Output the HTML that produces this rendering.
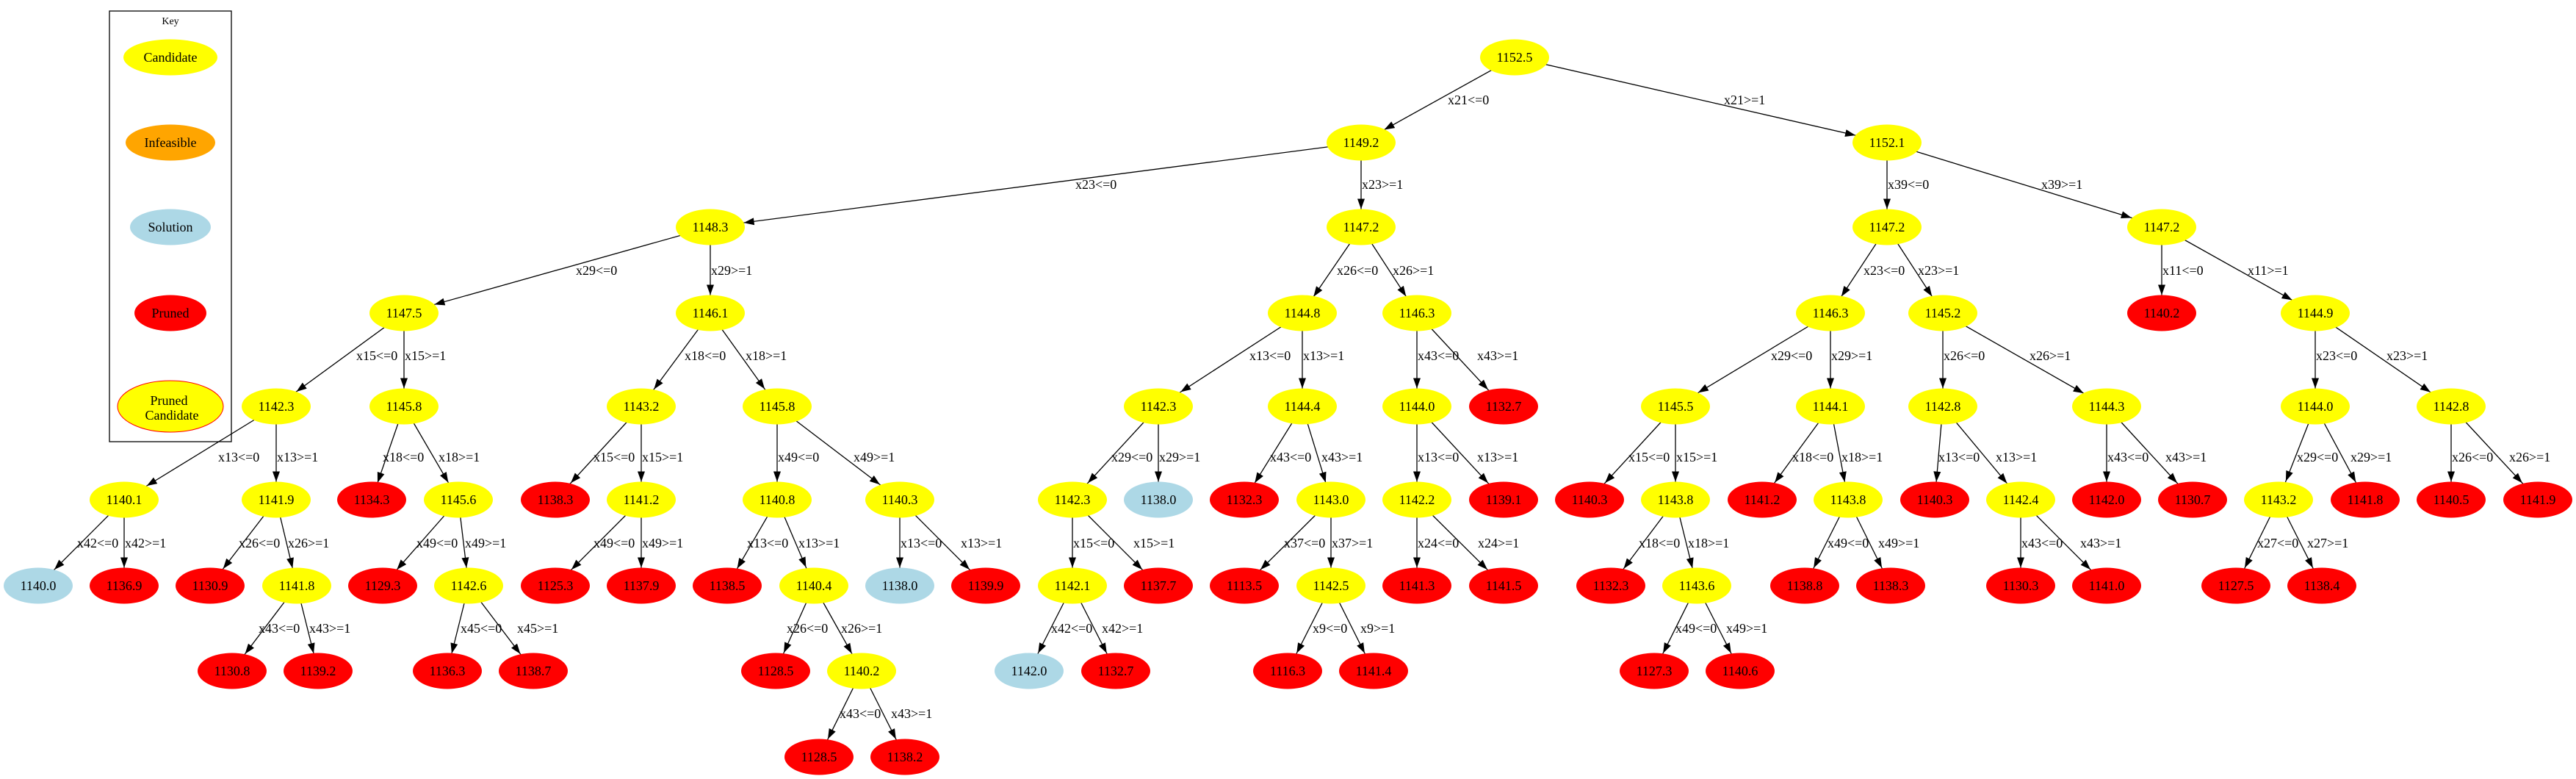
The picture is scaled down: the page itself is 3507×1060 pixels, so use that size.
<!DOCTYPE html>
<html><head><meta charset="utf-8"><style>
html,body{margin:0;padding:0;background:#fff;}
svg{display:block;font-family:"Liberation Serif",serif;}
.n{font-size:18px;text-anchor:middle;}
.l{font-size:18px;}
line{stroke:#000;stroke-width:1.3;}
.y{fill:#ffff00}.r{fill:#ff0000}.b{fill:#add8e6}.o{fill:#ffa500}
</style></head><body>
<svg width="3507" height="1060" viewBox="0 0 3507 1060" xmlns="http://www.w3.org/2000/svg">
<defs>
<marker id="m24" markerUnits="userSpaceOnUse" markerWidth="60" markerHeight="12" refX="38.5" refY="5" orient="auto" overflow="visible"><path d="M0,0 L14,5 L0,10 z" fill="#000"/></marker>
<marker id="m27" markerUnits="userSpaceOnUse" markerWidth="60" markerHeight="12" refX="41" refY="5" orient="auto" overflow="visible"><path d="M0,0 L14,5 L0,10 z" fill="#000"/></marker>
<marker id="m29" markerUnits="userSpaceOnUse" markerWidth="60" markerHeight="12" refX="43" refY="5" orient="auto" overflow="visible"><path d="M0,0 L14,5 L0,10 z" fill="#000"/></marker>
<marker id="m31" markerUnits="userSpaceOnUse" markerWidth="60" markerHeight="12" refX="45" refY="5" orient="auto" overflow="visible"><path d="M0,0 L14,5 L0,10 z" fill="#000"/></marker>
<marker id="m34" markerUnits="userSpaceOnUse" markerWidth="60" markerHeight="12" refX="48" refY="5" orient="auto" overflow="visible"><path d="M0,0 L14,5 L0,10 z" fill="#000"/></marker>
<marker id="m36" markerUnits="userSpaceOnUse" markerWidth="70" markerHeight="12" refX="50" refY="5" orient="auto" overflow="visible"><path d="M0,0 L14,5 L0,10 z" fill="#000"/></marker>
<marker id="m43" markerUnits="userSpaceOnUse" markerWidth="70" markerHeight="12" refX="57" refY="5" orient="auto" overflow="visible"><path d="M0,0 L14,5 L0,10 z" fill="#000"/></marker>
<marker id="m44" markerUnits="userSpaceOnUse" markerWidth="70" markerHeight="12" refX="58" refY="5" orient="auto" overflow="visible"><path d="M0,0 L14,5 L0,10 z" fill="#000"/></marker>
<marker id="m46" markerUnits="userSpaceOnUse" markerWidth="70" markerHeight="12" refX="60" refY="5" orient="auto" overflow="visible"><path d="M0,0 L14,5 L0,10 z" fill="#000"/></marker>
</defs>

<!-- Legend -->
<rect x="149" y="15" width="166" height="586" fill="none" stroke="#000" stroke-width="1.3"/>
<text x="232" y="33" style="font-size:14px;text-anchor:middle">Key</text>
<ellipse class="y" cx="232" cy="78" rx="64" ry="24.5"/><text class="n" x="232" y="84">Candidate</text>
<ellipse class="o" cx="232" cy="194" rx="61" ry="24.5"/><text class="n" x="232" y="200">Infeasible</text>
<ellipse class="b" cx="232" cy="309" rx="55" ry="24.5"/><text class="n" x="232" y="315">Solution</text>
<ellipse class="r" cx="232" cy="426" rx="49" ry="24.5"/><text class="n" x="232" y="432">Pruned</text>
<ellipse class="y" cx="232" cy="553" rx="72" ry="35" stroke="#ff0000" stroke-width="1"/>
<text class="n" x="230" y="551">Pruned</text><text class="n" x="234" y="571">Candidate</text>

<!-- Edges -->
<g>
<line x1="2062" y1="78" x2="1853" y2="194" marker-end="url(#m36)"/>
<line x1="2062" y1="78" x2="2569" y2="194" marker-end="url(#m44)"/>
<line x1="1853" y1="194" x2="967" y2="309" marker-end="url(#m46)"/>
<line x1="1853" y1="194" x2="1853" y2="309" marker-end="url(#m24)"/>
<line x1="967" y1="309" x2="550" y2="426" marker-end="url(#m43)"/>
<line x1="967" y1="309" x2="967" y2="426" marker-end="url(#m24)"/>
<line x1="550" y1="426" x2="376" y2="553" marker-end="url(#m34)"/>
<line x1="550" y1="426" x2="550" y2="553" marker-end="url(#m24)"/>
<line x1="376" y1="553" x2="169" y2="680" marker-end="url(#m36)"/>
<line x1="376" y1="553" x2="376" y2="680" marker-end="url(#m24)"/>
<line x1="169" y1="680" x2="52" y2="797" marker-end="url(#m31)"/>
<line x1="169" y1="680" x2="169" y2="797" marker-end="url(#m24)"/>
<line x1="376" y1="680" x2="286" y2="797" marker-end="url(#m29)"/>
<line x1="376" y1="680" x2="404" y2="797" marker-end="url(#m24)"/>
<line x1="404" y1="797" x2="316" y2="913" marker-end="url(#m29)"/>
<line x1="404" y1="797" x2="433" y2="913" marker-end="url(#m24)"/>
<line x1="550" y1="553" x2="506" y2="680" marker-end="url(#m24)"/>
<line x1="550" y1="553" x2="624" y2="680" marker-end="url(#m27)"/>
<line x1="624" y1="680" x2="521" y2="797" marker-end="url(#m29)"/>
<line x1="624" y1="680" x2="638" y2="797" marker-end="url(#m24)"/>
<line x1="638" y1="797" x2="609" y2="913" marker-end="url(#m24)"/>
<line x1="638" y1="797" x2="726" y2="913" marker-end="url(#m29)"/>
<line x1="967" y1="426" x2="873" y2="553" marker-end="url(#m29)"/>
<line x1="967" y1="426" x2="1058" y2="553" marker-end="url(#m29)"/>
<line x1="873" y1="553" x2="756" y2="680" marker-end="url(#m31)"/>
<line x1="873" y1="553" x2="873" y2="680" marker-end="url(#m24)"/>
<line x1="873" y1="680" x2="756" y2="797" marker-end="url(#m31)"/>
<line x1="873" y1="680" x2="873" y2="797" marker-end="url(#m24)"/>
<line x1="1058" y1="553" x2="1058" y2="680" marker-end="url(#m24)"/>
<line x1="1058" y1="553" x2="1225" y2="680" marker-end="url(#m34)"/>
<line x1="1058" y1="680" x2="990" y2="797" marker-end="url(#m27)"/>
<line x1="1058" y1="680" x2="1108" y2="797" marker-end="url(#m27)"/>
<line x1="1108" y1="797" x2="1056" y2="913" marker-end="url(#m27)"/>
<line x1="1108" y1="797" x2="1173" y2="913" marker-end="url(#m27)"/>
<line x1="1173" y1="913" x2="1115" y2="1030" marker-end="url(#m27)"/>
<line x1="1173" y1="913" x2="1232" y2="1030" marker-end="url(#m27)"/>
<line x1="1225" y1="680" x2="1225" y2="797" marker-end="url(#m24)"/>
<line x1="1225" y1="680" x2="1342" y2="797" marker-end="url(#m31)"/>
<line x1="1853" y1="309" x2="1773" y2="426" marker-end="url(#m27)"/>
<line x1="1853" y1="309" x2="1929" y2="426" marker-end="url(#m27)"/>
<line x1="1773" y1="426" x2="1577" y2="553" marker-end="url(#m36)"/>
<line x1="1773" y1="426" x2="1773" y2="553" marker-end="url(#m24)"/>
<line x1="1577" y1="553" x2="1460" y2="680" marker-end="url(#m31)"/>
<line x1="1577" y1="553" x2="1577" y2="680" marker-end="url(#m24)"/>
<line x1="1460" y1="680" x2="1460" y2="797" marker-end="url(#m24)"/>
<line x1="1460" y1="680" x2="1577" y2="797" marker-end="url(#m31)"/>
<line x1="1460" y1="797" x2="1401" y2="913" marker-end="url(#m27)"/>
<line x1="1460" y1="797" x2="1519" y2="913" marker-end="url(#m27)"/>
<line x1="1773" y1="553" x2="1694" y2="680" marker-end="url(#m27)"/>
<line x1="1773" y1="553" x2="1812" y2="680" marker-end="url(#m24)"/>
<line x1="1812" y1="680" x2="1694" y2="797" marker-end="url(#m31)"/>
<line x1="1812" y1="680" x2="1812" y2="797" marker-end="url(#m24)"/>
<line x1="1812" y1="797" x2="1753" y2="913" marker-end="url(#m27)"/>
<line x1="1812" y1="797" x2="1870" y2="913" marker-end="url(#m27)"/>
<line x1="1929" y1="426" x2="1929" y2="553" marker-end="url(#m24)"/>
<line x1="1929" y1="426" x2="2047" y2="553" marker-end="url(#m31)"/>
<line x1="1929" y1="553" x2="1929" y2="680" marker-end="url(#m24)"/>
<line x1="1929" y1="553" x2="2047" y2="680" marker-end="url(#m31)"/>
<line x1="1929" y1="680" x2="1929" y2="797" marker-end="url(#m24)"/>
<line x1="1929" y1="680" x2="2047" y2="797" marker-end="url(#m31)"/>
<line x1="2569" y1="194" x2="2569" y2="309" marker-end="url(#m24)"/>
<line x1="2569" y1="194" x2="2943" y2="309" marker-end="url(#m43)"/>
<line x1="2569" y1="309" x2="2492" y2="426" marker-end="url(#m27)"/>
<line x1="2569" y1="309" x2="2645" y2="426" marker-end="url(#m27)"/>
<line x1="2492" y1="426" x2="2281" y2="553" marker-end="url(#m36)"/>
<line x1="2492" y1="426" x2="2492" y2="553" marker-end="url(#m24)"/>
<line x1="2281" y1="553" x2="2164" y2="680" marker-end="url(#m31)"/>
<line x1="2281" y1="553" x2="2281" y2="680" marker-end="url(#m24)"/>
<line x1="2281" y1="680" x2="2193" y2="797" marker-end="url(#m29)"/>
<line x1="2281" y1="680" x2="2310" y2="797" marker-end="url(#m24)"/>
<line x1="2310" y1="797" x2="2252" y2="913" marker-end="url(#m27)"/>
<line x1="2310" y1="797" x2="2369" y2="913" marker-end="url(#m27)"/>
<line x1="2492" y1="553" x2="2399" y2="680" marker-end="url(#m29)"/>
<line x1="2492" y1="553" x2="2516" y2="680" marker-end="url(#m24)"/>
<line x1="2516" y1="680" x2="2457" y2="797" marker-end="url(#m27)"/>
<line x1="2516" y1="680" x2="2574" y2="797" marker-end="url(#m27)"/>
<line x1="2645" y1="426" x2="2645" y2="553" marker-end="url(#m24)"/>
<line x1="2645" y1="426" x2="2868" y2="553" marker-end="url(#m36)"/>
<line x1="2645" y1="553" x2="2634" y2="680" marker-end="url(#m24)"/>
<line x1="2645" y1="553" x2="2751" y2="680" marker-end="url(#m29)"/>
<line x1="2751" y1="680" x2="2751" y2="797" marker-end="url(#m24)"/>
<line x1="2751" y1="680" x2="2868" y2="797" marker-end="url(#m31)"/>
<line x1="2868" y1="553" x2="2868" y2="680" marker-end="url(#m24)"/>
<line x1="2868" y1="553" x2="2985" y2="680" marker-end="url(#m31)"/>
<line x1="2943" y1="309" x2="2943" y2="426" marker-end="url(#m24)"/>
<line x1="2943" y1="309" x2="3152" y2="426" marker-end="url(#m36)"/>
<line x1="3152" y1="426" x2="3152" y2="553" marker-end="url(#m24)"/>
<line x1="3152" y1="426" x2="3337" y2="553" marker-end="url(#m34)"/>
<line x1="3152" y1="553" x2="3102" y2="680" marker-end="url(#m27)"/>
<line x1="3152" y1="553" x2="3220" y2="680" marker-end="url(#m27)"/>
<line x1="3102" y1="680" x2="3044" y2="797" marker-end="url(#m27)"/>
<line x1="3102" y1="680" x2="3161" y2="797" marker-end="url(#m27)"/>
<line x1="3337" y1="553" x2="3337" y2="680" marker-end="url(#m24)"/>
<line x1="3337" y1="553" x2="3455" y2="680" marker-end="url(#m31)"/>
</g>

<!-- Edge labels -->
<g class="l">
<text x="1971" y="142">x21&lt;=0</text>
<text x="2347" y="142">x21&gt;=1</text>
<text x="1464" y="257">x23&lt;=0</text>
<text x="1854" y="257">x23&gt;=1</text>
<text x="784" y="374">x29&lt;=0</text>
<text x="968" y="374">x29&gt;=1</text>
<text x="485" y="490">x15&lt;=0</text>
<text x="551" y="490">x15&gt;=1</text>
<text x="297" y="628">x13&lt;=0</text>
<text x="377" y="628">x13&gt;=1</text>
<text x="105" y="745">x42&lt;=0</text>
<text x="170" y="745">x42&gt;=1</text>
<text x="325" y="745">x26&lt;=0</text>
<text x="392" y="745">x26&gt;=1</text>
<text x="352" y="861">x43&lt;=0</text>
<text x="421" y="861">x43&gt;=1</text>
<text x="521" y="628">x18&lt;=0</text>
<text x="597" y="628">x18&gt;=1</text>
<text x="567" y="745">x49&lt;=0</text>
<text x="633" y="745">x49&gt;=1</text>
<text x="627" y="861">x45&lt;=0</text>
<text x="704" y="861">x45&gt;=1</text>
<text x="932" y="490">x18&lt;=0</text>
<text x="1015" y="490">x18&gt;=1</text>
<text x="808" y="628">x15&lt;=0</text>
<text x="874" y="628">x15&gt;=1</text>
<text x="808" y="745">x49&lt;=0</text>
<text x="874" y="745">x49&gt;=1</text>
<text x="1059" y="628">x49&lt;=0</text>
<text x="1162" y="628">x49&gt;=1</text>
<text x="1017" y="745">x13&lt;=0</text>
<text x="1087" y="745">x13&gt;=1</text>
<text x="1071" y="861">x26&lt;=0</text>
<text x="1145" y="861">x26&gt;=1</text>
<text x="1143" y="977">x43&lt;=0</text>
<text x="1213" y="977">x43&gt;=1</text>
<text x="1226" y="745">x13&lt;=0</text>
<text x="1308" y="745">x13&gt;=1</text>
<text x="1820" y="374">x26&lt;=0</text>
<text x="1896" y="374">x26&gt;=1</text>
<text x="1701" y="490">x13&lt;=0</text>
<text x="1774" y="490">x13&gt;=1</text>
<text x="1513" y="628">x29&lt;=0</text>
<text x="1578" y="628">x29&gt;=1</text>
<text x="1461" y="745">x15&lt;=0</text>
<text x="1543" y="745">x15&gt;=1</text>
<text x="1431" y="861">x42&lt;=0</text>
<text x="1500" y="861">x42&gt;=1</text>
<text x="1729" y="628">x43&lt;=0</text>
<text x="1799" y="628">x43&gt;=1</text>
<text x="1748" y="745">x37&lt;=0</text>
<text x="1813" y="745">x37&gt;=1</text>
<text x="1787" y="861">x9&lt;=0</text>
<text x="1852" y="861">x9&gt;=1</text>
<text x="1930" y="490">x43&lt;=0</text>
<text x="2011" y="490">x43&gt;=1</text>
<text x="1930" y="628">x13&lt;=0</text>
<text x="2011" y="628">x13&gt;=1</text>
<text x="1930" y="745">x24&lt;=0</text>
<text x="2012" y="745">x24&gt;=1</text>
<text x="2570" y="257">x39&lt;=0</text>
<text x="2779" y="257">x39&gt;=1</text>
<text x="2537" y="374">x23&lt;=0</text>
<text x="2611" y="374">x23&gt;=1</text>
<text x="2411" y="490">x29&lt;=0</text>
<text x="2493" y="490">x29&gt;=1</text>
<text x="2217" y="628">x15&lt;=0</text>
<text x="2282" y="628">x15&gt;=1</text>
<text x="2231" y="745">x18&lt;=0</text>
<text x="2298" y="745">x18&gt;=1</text>
<text x="2281" y="861">x49&lt;=0</text>
<text x="2350" y="861">x49&gt;=1</text>
<text x="2440" y="628">x18&lt;=0</text>
<text x="2507" y="628">x18&gt;=1</text>
<text x="2488" y="745">x49&lt;=0</text>
<text x="2557" y="745">x49&gt;=1</text>
<text x="2646" y="490">x26&lt;=0</text>
<text x="2763" y="490">x26&gt;=1</text>
<text x="2639" y="628">x13&lt;=0</text>
<text x="2717" y="628">x13&gt;=1</text>
<text x="2752" y="745">x43&lt;=0</text>
<text x="2832" y="745">x43&gt;=1</text>
<text x="2869" y="628">x43&lt;=0</text>
<text x="2948" y="628">x43&gt;=1</text>
<text x="2944" y="374">x11&lt;=0</text>
<text x="3060" y="374">x11&gt;=1</text>
<text x="3153" y="490">x23&lt;=0</text>
<text x="3249" y="490">x23&gt;=1</text>
<text x="3127" y="628">x29&lt;=0</text>
<text x="3200" y="628">x29&gt;=1</text>
<text x="3073" y="745">x27&lt;=0</text>
<text x="3141" y="745">x27&gt;=1</text>
<text x="3338" y="628">x26&lt;=0</text>
<text x="3416" y="628">x26&gt;=1</text>
</g>

<!-- Nodes -->
<g>
<ellipse class="y" cx="2062" cy="78" rx="47" ry="24.5"/><text class="n" x="2062" y="84">1152.5</text>
<ellipse class="y" cx="1853" cy="194" rx="47" ry="24.5"/><text class="n" x="1853" y="200">1149.2</text>
<ellipse class="y" cx="2569" cy="194" rx="47" ry="24.5"/><text class="n" x="2569" y="200">1152.1</text>
<ellipse class="y" cx="967" cy="309" rx="47" ry="24.5"/><text class="n" x="967" y="315">1148.3</text>
<ellipse class="y" cx="1853" cy="309" rx="47" ry="24.5"/><text class="n" x="1853" y="315">1147.2</text>
<ellipse class="y" cx="2569" cy="309" rx="47" ry="24.5"/><text class="n" x="2569" y="315">1147.2</text>
<ellipse class="y" cx="2943" cy="309" rx="47" ry="24.5"/><text class="n" x="2943" y="315">1147.2</text>

<ellipse class="y" cx="550" cy="426" rx="47" ry="24.5"/><text class="n" x="550" y="432">1147.5</text>
<ellipse class="y" cx="967" cy="426" rx="47" ry="24.5"/><text class="n" x="967" y="432">1146.1</text>
<ellipse class="y" cx="1773" cy="426" rx="47" ry="24.5"/><text class="n" x="1773" y="432">1144.8</text>
<ellipse class="y" cx="1929" cy="426" rx="47" ry="24.5"/><text class="n" x="1929" y="432">1146.3</text>
<ellipse class="y" cx="2492" cy="426" rx="47" ry="24.5"/><text class="n" x="2492" y="432">1146.3</text>
<ellipse class="y" cx="2645" cy="426" rx="47" ry="24.5"/><text class="n" x="2645" y="432">1145.2</text>
<ellipse class="r" cx="2943" cy="426" rx="47" ry="24.5"/><text class="n" x="2943" y="432">1140.2</text>
<ellipse class="y" cx="3152" cy="426" rx="47" ry="24.5"/><text class="n" x="3152" y="432">1144.9</text>

<ellipse class="y" cx="376" cy="553" rx="47" ry="24.5"/><text class="n" x="376" y="559">1142.3</text>
<ellipse class="y" cx="550" cy="553" rx="47" ry="24.5"/><text class="n" x="550" y="559">1145.8</text>
<ellipse class="y" cx="873" cy="553" rx="47" ry="24.5"/><text class="n" x="873" y="559">1143.2</text>
<ellipse class="y" cx="1058" cy="553" rx="47" ry="24.5"/><text class="n" x="1058" y="559">1145.8</text>
<ellipse class="y" cx="1577" cy="553" rx="47" ry="24.5"/><text class="n" x="1577" y="559">1142.3</text>
<ellipse class="y" cx="1773" cy="553" rx="47" ry="24.5"/><text class="n" x="1773" y="559">1144.4</text>
<ellipse class="y" cx="1929" cy="553" rx="47" ry="24.5"/><text class="n" x="1929" y="559">1144.0</text>
<ellipse class="r" cx="2047" cy="553" rx="47" ry="24.5"/><text class="n" x="2047" y="559">1132.7</text>
<ellipse class="y" cx="2281" cy="553" rx="47" ry="24.5"/><text class="n" x="2281" y="559">1145.5</text>
<ellipse class="y" cx="2492" cy="553" rx="47" ry="24.5"/><text class="n" x="2492" y="559">1144.1</text>
<ellipse class="y" cx="2645" cy="553" rx="47" ry="24.5"/><text class="n" x="2645" y="559">1142.8</text>
<ellipse class="y" cx="2868" cy="553" rx="47" ry="24.5"/><text class="n" x="2868" y="559">1144.3</text>
<ellipse class="y" cx="3152" cy="553" rx="47" ry="24.5"/><text class="n" x="3152" y="559">1144.0</text>
<ellipse class="y" cx="3337" cy="553" rx="47" ry="24.5"/><text class="n" x="3337" y="559">1142.8</text>

<ellipse class="y" cx="169" cy="680" rx="47" ry="24.5"/><text class="n" x="169" y="686">1140.1</text>
<ellipse class="y" cx="376" cy="680" rx="47" ry="24.5"/><text class="n" x="376" y="686">1141.9</text>
<ellipse class="r" cx="506" cy="680" rx="47" ry="24.5"/><text class="n" x="506" y="686">1134.3</text>
<ellipse class="y" cx="624" cy="680" rx="47" ry="24.5"/><text class="n" x="624" y="686">1145.6</text>
<ellipse class="r" cx="756" cy="680" rx="47" ry="24.5"/><text class="n" x="756" y="686">1138.3</text>
<ellipse class="y" cx="873" cy="680" rx="47" ry="24.5"/><text class="n" x="873" y="686">1141.2</text>
<ellipse class="y" cx="1058" cy="680" rx="47" ry="24.5"/><text class="n" x="1058" y="686">1140.8</text>
<ellipse class="y" cx="1225" cy="680" rx="47" ry="24.5"/><text class="n" x="1225" y="686">1140.3</text>
<ellipse class="y" cx="1460" cy="680" rx="47" ry="24.5"/><text class="n" x="1460" y="686">1142.3</text>
<ellipse class="b" cx="1577" cy="680" rx="47" ry="24.5"/><text class="n" x="1577" y="686">1138.0</text>
<ellipse class="r" cx="1694" cy="680" rx="47" ry="24.5"/><text class="n" x="1694" y="686">1132.3</text>
<ellipse class="y" cx="1812" cy="680" rx="47" ry="24.5"/><text class="n" x="1812" y="686">1143.0</text>
<ellipse class="y" cx="1929" cy="680" rx="47" ry="24.5"/><text class="n" x="1929" y="686">1142.2</text>
<ellipse class="r" cx="2047" cy="680" rx="47" ry="24.5"/><text class="n" x="2047" y="686">1139.1</text>
<ellipse class="r" cx="2164" cy="680" rx="47" ry="24.5"/><text class="n" x="2164" y="686">1140.3</text>
<ellipse class="y" cx="2281" cy="680" rx="47" ry="24.5"/><text class="n" x="2281" y="686">1143.8</text>
<ellipse class="r" cx="2399" cy="680" rx="47" ry="24.5"/><text class="n" x="2399" y="686">1141.2</text>
<ellipse class="y" cx="2516" cy="680" rx="47" ry="24.5"/><text class="n" x="2516" y="686">1143.8</text>
<ellipse class="r" cx="2634" cy="680" rx="47" ry="24.5"/><text class="n" x="2634" y="686">1140.3</text>
<ellipse class="y" cx="2751" cy="680" rx="47" ry="24.5"/><text class="n" x="2751" y="686">1142.4</text>
<ellipse class="r" cx="2868" cy="680" rx="47" ry="24.5"/><text class="n" x="2868" y="686">1142.0</text>
<ellipse class="r" cx="2985" cy="680" rx="47" ry="24.5"/><text class="n" x="2985" y="686">1130.7</text>
<ellipse class="y" cx="3102" cy="680" rx="47" ry="24.5"/><text class="n" x="3102" y="686">1143.2</text>
<ellipse class="r" cx="3220" cy="680" rx="47" ry="24.5"/><text class="n" x="3220" y="686">1141.8</text>
<ellipse class="r" cx="3337" cy="680" rx="47" ry="24.5"/><text class="n" x="3337" y="686">1140.5</text>
<ellipse class="r" cx="3455" cy="680" rx="47" ry="24.5"/><text class="n" x="3455" y="686">1141.9</text>

<ellipse class="b" cx="52" cy="797" rx="47" ry="24.5"/><text class="n" x="52" y="803">1140.0</text>
<ellipse class="r" cx="169" cy="797" rx="47" ry="24.5"/><text class="n" x="169" y="803">1136.9</text>
<ellipse class="r" cx="286" cy="797" rx="47" ry="24.5"/><text class="n" x="286" y="803">1130.9</text>
<ellipse class="y" cx="404" cy="797" rx="47" ry="24.5"/><text class="n" x="404" y="803">1141.8</text>
<ellipse class="r" cx="521" cy="797" rx="47" ry="24.5"/><text class="n" x="521" y="803">1129.3</text>
<ellipse class="y" cx="638" cy="797" rx="47" ry="24.5"/><text class="n" x="638" y="803">1142.6</text>
<ellipse class="r" cx="756" cy="797" rx="47" ry="24.5"/><text class="n" x="756" y="803">1125.3</text>
<ellipse class="r" cx="873" cy="797" rx="47" ry="24.5"/><text class="n" x="873" y="803">1137.9</text>
<ellipse class="r" cx="990" cy="797" rx="47" ry="24.5"/><text class="n" x="990" y="803">1138.5</text>
<ellipse class="y" cx="1108" cy="797" rx="47" ry="24.5"/><text class="n" x="1108" y="803">1140.4</text>
<ellipse class="b" cx="1225" cy="797" rx="47" ry="24.5"/><text class="n" x="1225" y="803">1138.0</text>
<ellipse class="r" cx="1342" cy="797" rx="47" ry="24.5"/><text class="n" x="1342" y="803">1139.9</text>
<ellipse class="y" cx="1460" cy="797" rx="47" ry="24.5"/><text class="n" x="1460" y="803">1142.1</text>
<ellipse class="r" cx="1577" cy="797" rx="47" ry="24.5"/><text class="n" x="1577" y="803">1137.7</text>
<ellipse class="r" cx="1694" cy="797" rx="47" ry="24.5"/><text class="n" x="1694" y="803">1113.5</text>
<ellipse class="y" cx="1812" cy="797" rx="47" ry="24.5"/><text class="n" x="1812" y="803">1142.5</text>
<ellipse class="r" cx="1929" cy="797" rx="47" ry="24.5"/><text class="n" x="1929" y="803">1141.3</text>
<ellipse class="r" cx="2047" cy="797" rx="47" ry="24.5"/><text class="n" x="2047" y="803">1141.5</text>
<ellipse class="r" cx="2193" cy="797" rx="47" ry="24.5"/><text class="n" x="2193" y="803">1132.3</text>
<ellipse class="y" cx="2310" cy="797" rx="47" ry="24.5"/><text class="n" x="2310" y="803">1143.6</text>
<ellipse class="r" cx="2457" cy="797" rx="47" ry="24.5"/><text class="n" x="2457" y="803">1138.8</text>
<ellipse class="r" cx="2574" cy="797" rx="47" ry="24.5"/><text class="n" x="2574" y="803">1138.3</text>
<ellipse class="r" cx="2751" cy="797" rx="47" ry="24.5"/><text class="n" x="2751" y="803">1130.3</text>
<ellipse class="r" cx="2868" cy="797" rx="47" ry="24.5"/><text class="n" x="2868" y="803">1141.0</text>
<ellipse class="r" cx="3044" cy="797" rx="47" ry="24.5"/><text class="n" x="3044" y="803">1127.5</text>
<ellipse class="r" cx="3161" cy="797" rx="47" ry="24.5"/><text class="n" x="3161" y="803">1138.4</text>

<ellipse class="r" cx="316" cy="913" rx="47" ry="24.5"/><text class="n" x="316" y="919">1130.8</text>
<ellipse class="r" cx="433" cy="913" rx="47" ry="24.5"/><text class="n" x="433" y="919">1139.2</text>
<ellipse class="r" cx="609" cy="913" rx="47" ry="24.5"/><text class="n" x="609" y="919">1136.3</text>
<ellipse class="r" cx="726" cy="913" rx="47" ry="24.5"/><text class="n" x="726" y="919">1138.7</text>
<ellipse class="r" cx="1056" cy="913" rx="47" ry="24.5"/><text class="n" x="1056" y="919">1128.5</text>
<ellipse class="y" cx="1173" cy="913" rx="47" ry="24.5"/><text class="n" x="1173" y="919">1140.2</text>
<ellipse class="b" cx="1401" cy="913" rx="47" ry="24.5"/><text class="n" x="1401" y="919">1142.0</text>
<ellipse class="r" cx="1519" cy="913" rx="47" ry="24.5"/><text class="n" x="1519" y="919">1132.7</text>
<ellipse class="r" cx="1753" cy="913" rx="47" ry="24.5"/><text class="n" x="1753" y="919">1116.3</text>
<ellipse class="r" cx="1870" cy="913" rx="47" ry="24.5"/><text class="n" x="1870" y="919">1141.4</text>
<ellipse class="r" cx="2252" cy="913" rx="47" ry="24.5"/><text class="n" x="2252" y="919">1127.3</text>
<ellipse class="r" cx="2369" cy="913" rx="47" ry="24.5"/><text class="n" x="2369" y="919">1140.6</text>

<ellipse class="r" cx="1115" cy="1030" rx="47" ry="24.5"/><text class="n" x="1115" y="1036">1128.5</text>
<ellipse class="r" cx="1232" cy="1030" rx="47" ry="24.5"/><text class="n" x="1232" y="1036">1138.2</text>
</g>
</svg>
</body></html>
